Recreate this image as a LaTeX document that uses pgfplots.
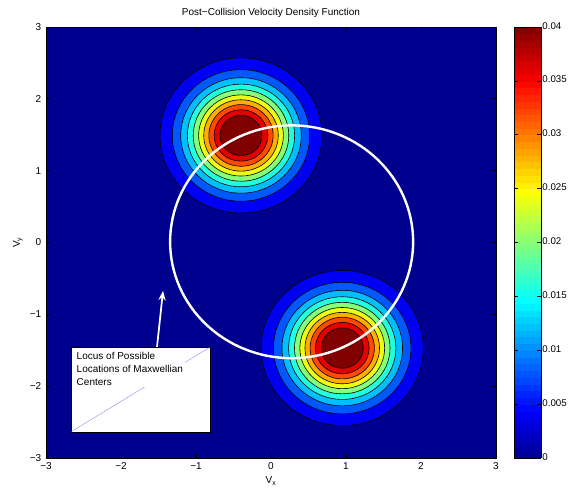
\documentclass[border=0pt]{standalone}
\usepackage{fontspec}
\setmainfont{Liberation Sans}
\usepackage{pgfplots}
\usepackage{pgfplotstable}
\pgfplotsset{compat=1.18}
\usetikzlibrary{arrows.meta}

\definecolor{bgnavy}{rgb}{0,0,0.5625}
\definecolor{diagline}{rgb}{0.55,0.55,0.92}

% filled ellipse mark: x radius = mark size, y radius scaled by y/x unit ratio
\pgfdeclareplotmark{ellf}{%
  \pgfpathellipse{\pgfpointorigin}{\pgfqpoint{\pgfplotmarksize}{0pt}}{\pgfqpoint{0pt}{0.95778\pgfplotmarksize}}%
  \pgfusepathqfillstroke}
\pgfdeclareplotmark{ello}{%
  \pgfpathellipse{\pgfpointorigin}{\pgfqpoint{\pgfplotmarksize}{0pt}}{\pgfqpoint{0pt}{0.95778\pgfplotmarksize}}%
  \pgfusepathqstroke}

% contour rings: centre x, centre y, radius (axis units), lower level of the band
\pgfplotstableread{
x y r v
-0.40 1.49 1.080 0.004
-0.40 1.49 0.916 0.008
-0.40 1.49 0.804 0.012
-0.40 1.49 0.715 0.016
-0.40 1.49 0.637 0.020
-0.40 1.49 0.565 0.024
-0.40 1.49 0.497 0.028
-0.40 1.49 0.429 0.032
-0.40 1.49 0.358 0.036
-0.40 1.49 0.280 0.040
0.95 -1.47 1.080 0.004
0.95 -1.47 0.916 0.008
0.95 -1.47 0.804 0.012
0.95 -1.47 0.715 0.016
0.95 -1.47 0.637 0.020
0.95 -1.47 0.565 0.024
0.95 -1.47 0.497 0.028
0.95 -1.47 0.429 0.032
0.95 -1.47 0.358 0.036
0.95 -1.47 0.280 0.040
}\rings

\pgfplotstableread{
x y r
0.275 0.01 1.62
}\locus

\begin{document}
\begin{tikzpicture}
\useasboundingbox (-34.5pt,-24.75pt) rectangle (391.5pt,343.5pt);
\begin{axis}[
  x=56.25pt, y=53.875pt,
  xmin=-3, xmax=3, ymin=-3, ymax=3,
  font=\fontsize{7.5}{9}\selectfont,
  axis background/.style={fill=bgnavy},
  xtick={-3,-2,-1,0,1,2,3}, ytick={-3,-2,-1,0,1,2,3},
  xticklabels={−3,−2,−1,0,1,2,3},
  yticklabels={−3,−2,−1,0,1,2,3},
  tick align=inside, major tick length=3pt,
  tick style={black, line width=0.5pt},
  axis line style={line width=0.6pt},
  title={Post−Collision Velocity Density Function},
  title style={yshift=-2.5pt},
  xlabel={V\textsubscript{x}},
  xlabel style={yshift=1.5pt},
  ylabel={V\textsubscript{y}},
  ylabel style={yshift=-1.5pt},
  colormap={matjet}{rgb(0pt)=(0,0,0.5625); rgb(7pt)=(0,0,1); rgb(23pt)=(0,1,1); rgb(39pt)=(1,1,0); rgb(55pt)=(1,0,0); rgb(63pt)=(0.5,0,0)},
  point meta min=0, point meta max=0.04,
  colorbar, colorbar sampled,
  colorbar style={
    samples=65,
    at={(parent axis.north east)}, anchor=north west, xshift=5.25pt,
    width=20.25pt, height=323.25pt, scale only axis,
    scaled y ticks=false,
    ytick={0,0.005,0.01,0.015,0.02,0.025,0.03,0.035,0.04},
    yticklabels={0,0.005,0.01,0.015,0.02,0.025,0.03,0.035,0.04},
    tick align=inside, major tick length=3pt,
    ytick pos=both, yticklabel pos=right,
    yticklabel style={inner sep=0.6pt, yshift=1pt},
    tick style={black, line width=0.5pt},
    axis line style={line width=0.6pt},
    font=\fontsize{7.3}{9}\selectfont,
  },
]
\addplot[scatter, only marks, mark=ellf, line width=0.45pt,
  point meta=explicit,
  scatter/use mapped color={draw=black, fill=mapped color},
  visualization depends on={\thisrow{r} \as \rr},
  scatter/@pre marker code/.append style={/tikz/mark size=\rr*56.25pt},
] table[x=x, y=y, meta=v] {\rings};

\addplot[only marks, mark=ello, mark options={draw=white, line width=1.8pt},
  visualization depends on={\thisrow{r} \as \lr},
  scatter, point meta=0,
  scatter/use mapped color={draw=white},
  scatter/@pre marker code/.append style={/tikz/mark size=\lr*56.25pt},
] table[x=x, y=y] {\locus};

\draw[white, line width=1.3pt, -{Stealth[length=7pt,width=5.5pt]}]
  (axis cs:-1.52,-1.455) -- (axis cs:-1.44,-0.675);
\draw[black, fill=white, line width=0.5pt]
  (axis cs:-2.667,-2.638) rectangle (axis cs:-0.813,-1.455);
\draw[diagline, line width=0.3pt]
  (axis cs:-2.66,-2.632) -- (axis cs:-0.82,-1.461);
\node[anchor=north west, fill=white, inner sep=1.2pt, align=left,
  font=\fontsize{7.5}{9.75}\selectfont]
  at (axis cs:-2.615,-1.50) {Locus of Possible\\Locations of Maxwellian\\Centers};
\end{axis}
\end{tikzpicture}
\end{document}
